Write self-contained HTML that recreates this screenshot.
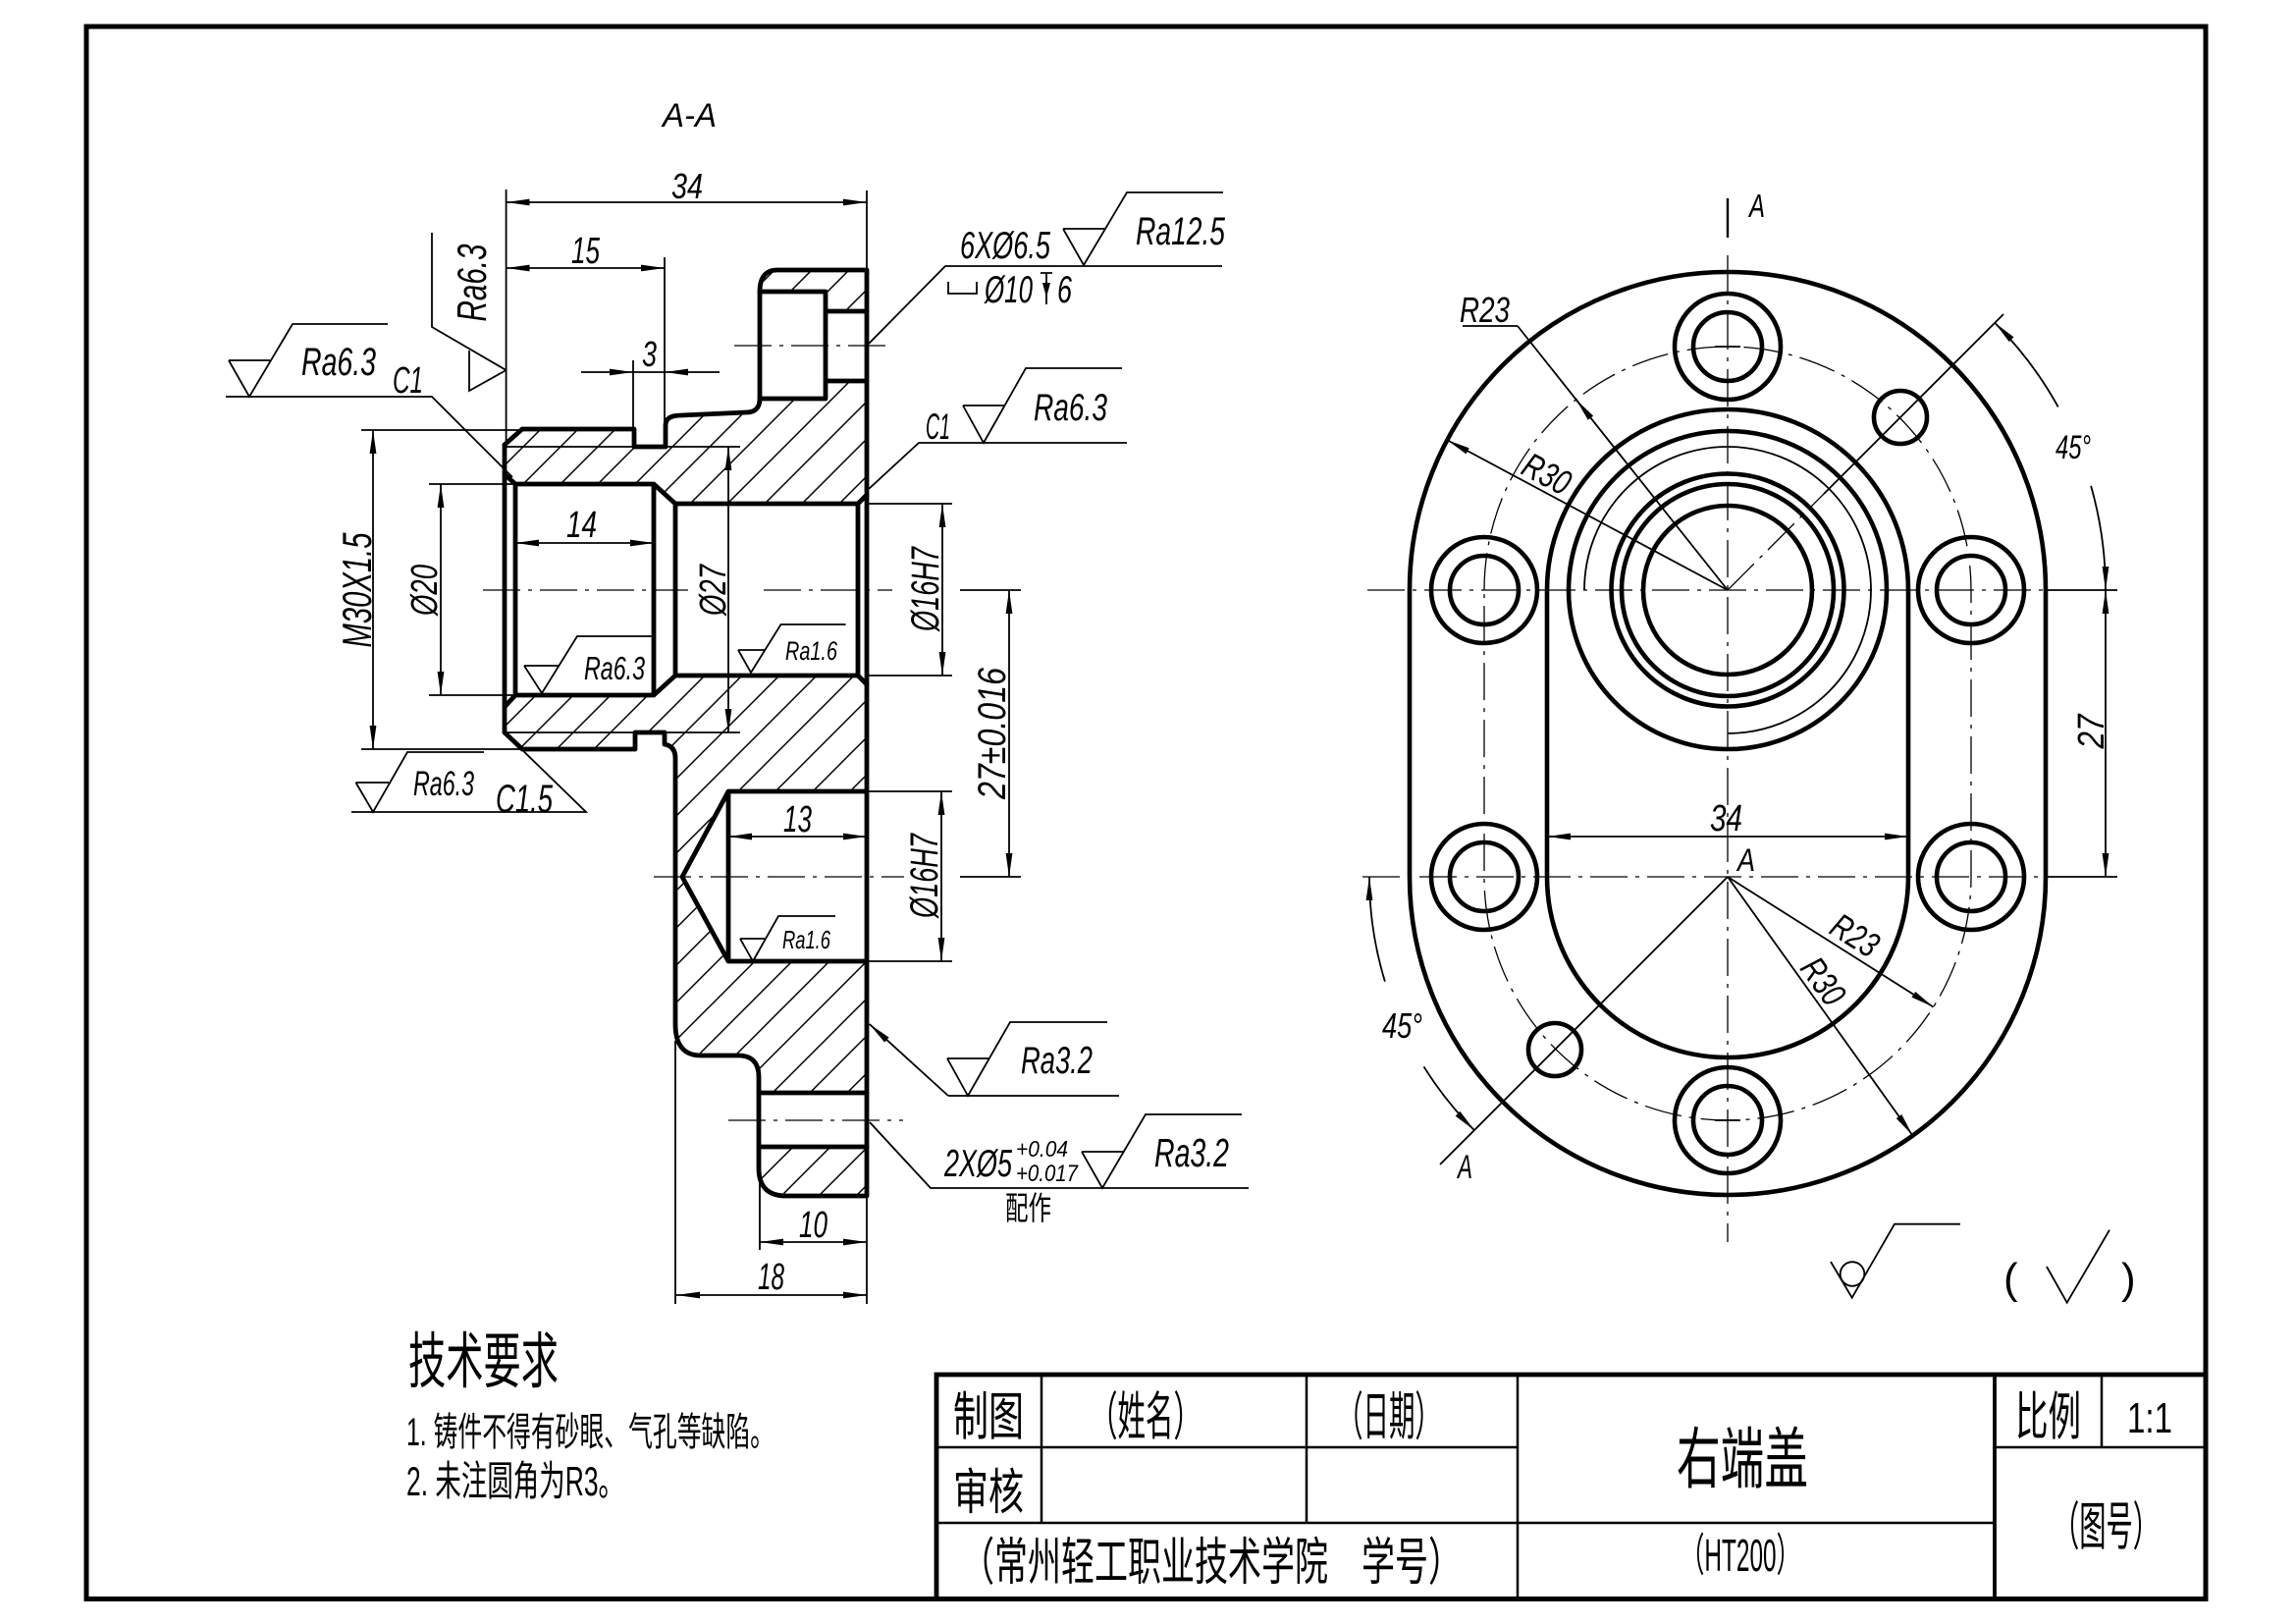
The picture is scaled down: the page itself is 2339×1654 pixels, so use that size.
<!DOCTYPE html>
<html><head><meta charset="utf-8">
<style>
html,body{margin:0;padding:0;background:#fff;}
svg{display:block}
.d{font-family:"Liberation Sans",sans-serif;font-style:italic;fill:#000}
.c{font-family:"Liberation Sans","Noto Sans CJK SC",sans-serif;fill:#000}
</style></head>
<body>
<svg width="2339" height="1654" viewBox="0 0 2339 1654" xmlns="http://www.w3.org/2000/svg">
<defs>
<marker id="ar" viewBox="0 0 24 8" refX="24" refY="4" markerWidth="24" markerHeight="8" markerUnits="userSpaceOnUse" orient="auto-start-reverse"><path d="M0,0.6 L24,4 L0,7.4 Z" fill="#000"/></marker>
<pattern id="h" width="38" height="38" patternUnits="userSpaceOnUse"><path d="M-3,3 L3,-3 M0,38 L38,0 M35,41 L41,35" stroke="#000" stroke-width="1.5"/></pattern>
</defs>
<rect width="2339" height="1654" fill="#fff"/>

<!-- frame -->
<rect x="88" y="27" width="2159" height="1601.5" fill="none" stroke="#000" stroke-width="5"/>

<!-- hatch -->
<g fill="url(#h)" stroke="none">
<path d="M514,483 L514,453 L532,437 L646,437 L646,455 L678,455 L678,433 Q678,423 694,423 L760,420 Q774,420 774,406 L841,406 L841,388 L883,388 L883,504 L874,513 L688,513 L666,493 L525,493 Z"/>
<path d="M774,297 Q774,275 792,275 L883,275 L883,317 L841,317 L841,297 Z"/>
<path d="M514,720 L525,708 L666,708 L688,688 L874,688 L883,697 L883,806 L742,806 L695,893 L742,979 L883,979 L883,1113 L773,1113 L773,1097 Q773,1075 752,1075 L714,1075 Q688,1075 688,1043 L688,772 Q688,760 677,758 L677,746 L647,746 L647,763 L532,763 L514,746 Z"/>
<path d="M773,1168 L883,1168 L883,1218 L801,1218 Q773,1218 773,1190 Z"/>
</g>

<!-- thick outlines section -->
<g fill="none" stroke="#000" stroke-width="4.8" stroke-linejoin="round" stroke-linecap="round">
<path d="M514,453 L514,746"/>
<path d="M514,453 L532,437 L646,437 L646,455 L678,455 L678,433 Q678,423 694,423 L760,420 Q774,420 774,406 L774,297 Q774,275 792,275 L883,275 L883,1218 L801,1218 Q773,1218 773,1190 L773,1097 Q773,1075 752,1075 L714,1075 Q688,1075 688,1043 L688,772 Q688,760 677,758 L677,746 L647,746 L647,763 L532,763 L514,746"/>
<path d="M774,297 L841,297 L841,406 L774,406 M841,317 L883,317 M841,388 L883,388"/>
<path d="M514,483 L525,493 L666,493 L688,513 L874,513 L883,504 M514,720 L525,708 L666,708 L688,688 L874,688 L883,697 M525,493 L525,708 M666,493 L666,708 M688,513 L688,688 M874,513 L874,688"/>
<path d="M883,806 L742,806 L742,979 L883,979 M742,806 L695,893 L742,979"/>
<path d="M773,1113 L883,1113 M773,1168 L883,1168"/>
</g>

<!-- thick outlines right view -->
<g fill="none" stroke="#000" stroke-width="4.6">
<path d="M1436,601 A324,324 0 0 1 2084,601 L2084,893 A324,324 0 0 1 1436,893 Z"/>
<path d="M1576,601 A184,184 0 0 1 1944,601 L1944,893 A184,184 0 0 1 1576,893 Z"/>
<circle cx="1760" cy="601" r="86"/>
<circle cx="1760" cy="601" r="108"/>
<circle cx="1760" cy="601" r="118.5"/>
<circle cx="1760" cy="601" r="162"/>
<circle cx="1760" cy="353" r="54"/><circle cx="1760" cy="353" r="35"/>
<circle cx="1512" cy="601" r="54"/><circle cx="1512" cy="601" r="35"/>
<circle cx="2008" cy="601" r="54"/><circle cx="2008" cy="601" r="35"/>
<circle cx="1512" cy="893" r="54"/><circle cx="1512" cy="893" r="35"/>
<circle cx="2008" cy="893" r="54"/><circle cx="2008" cy="893" r="35"/>
<circle cx="1760" cy="1141" r="54"/><circle cx="1760" cy="1141" r="35"/>
<circle cx="1936" cy="425" r="27"/>
<circle cx="1584" cy="1069" r="27"/>
</g>

<!-- center lines -->
<g fill="none" stroke="#000" stroke-width="1.3" stroke-dasharray="38,8,4,8">
<path d="M492,601 L701,601 M778,601 L909,601"/>
<path d="M666,893 L921,893"/>
<path d="M748,352 L909,352"/>
<path d="M742,1141 L920,1141"/>
<path d="M1512,601 A248,248 0 0 1 2008,601 L2008,893 A248,248 0 0 1 1512,893 Z"/>
<path d="M1393,601 L2084,601 M1388,893 L2084,893"/>
<path d="M1760,260 L1760,1265"/>
<path d="M1760,601 L1858,503"/>
</g>

<!-- thin lines -->
<g fill="none" stroke="#000" stroke-width="1.8">
<path d="M1614,601 A146,146 0 1 1 1760,747"/>
<path d="M1858,503 L2041,320"/>
<path d="M1760,893 L1467,1186"/>
<path d="M1760,202 L1760,242" stroke-width="2.4"/>
<path d="M1747,353 L1773,353 M1747,1141 L1773,1141"/>
<path d="M2084,601 L2157,601 M2084,893 L2157,893"/>
<path d="M1546,332 L1760,601 M1490,332 L1546,332"/>
<path d="M515.6,193 L515.6,453 M883,194 L883,275 M677,262 L677,455 M645,367 L645,437 M368,438 L532,438 M368,763 L532,763 M437,493 L525,493 M437,708 L525,708 M883,513 L970,513 M883,688 L970,688 M883,806 L970,806 M883,979 L970,979 M978,601 L1040,601 M978,893 L1040,893 M774,1193 L774,1273 M883,1218 L883,1328 M688,1060 L688,1328 M514,455 L754,455 M514,746 L754,746"/>
<path d="M645,379 L677,379"/>
<path d="M1083,233 L1126,233 M1083,233 L1104,270 L1148,196 L1246,196 M885,350 L963,271 L1245,271"/>
<path d="M981,413 L1023,413 M981,413 L1002,451 L1045,375 L1143,375 M885,498 L936,451 L1148,451"/>
<path d="M965,1078 L1007,1078 M965,1078 L986,1116 L1029,1041 L1128,1041 M966,1116 L1140,1116"/>
<path d="M1102,1173 L1145,1173 M1102,1173 L1123,1210 L1167,1135 L1265,1135 M886,1143 L948,1210 L1272,1210"/>
<path d="M752,662 L779,662 M752,662 L765,685 L795.5,636 L861.6,636"/>
<path d="M754,956 L779,956 M754,956 L767,979 L793,933 L851,933"/>
<path d="M534,678 L570,678 M534,678 L552,706 L588,648 L664,648"/>
<path d="M362.5,797 L396,797 M362.5,797 L380,827 L415,766 L493,766 M358,827 L597,827 L523,755"/>
<path d="M233,367 L275,367 M233,367 L254,404 L298,330 L395,330 M230,404 L440,404 L522,486"/>
<path d="M440,237 L440,333 L515.6,377 M478,357 L478,398 L515.6,377"/>
<path d="M966,287 L966,299 L995,299 L995,287 M1060,278 L1072,278 M1066,278 L1066,310"/>
<path d="M1865,1285 L1886.7,1321.7 L1930,1246.7 L1997,1246.7"/>
<circle cx="1887" cy="1297.5" r="12.3"/>
<path d="M2085,1290 L2105.7,1326.7 L2149,1252.7"/>
</g>
<path d="M1062,288 L1070,288 L1066,303 Z" fill="#000"/>

<!-- dimension lines with arrows -->
<g fill="none" stroke="#000" stroke-width="1.8" marker-start="url(#ar)" marker-end="url(#ar)">
<path d="M515.6,206 L883,206"/>
<path d="M515.6,273 L677,273"/>
<path d="M380,438 L380,763"/>
<path d="M449,493 L449,708"/>
<path d="M525,553 L666,553"/>
<path d="M742,455 L742,746"/>
<path d="M960,513 L960,688"/>
<path d="M1028,601 L1028,893"/>
<path d="M742,852 L883,852"/>
<path d="M959,806 L959,979"/>
<path d="M774,1265 L883,1265"/>
<path d="M689,1319 L883,1319"/>
<path d="M2145,601 L2145,893"/>
<path d="M1576,852 L1944,852"/>
</g>
<g fill="none" stroke="#000" stroke-width="1.8" marker-end="url(#ar)">
<path d="M592,379 L645,379"/>
<path d="M733,379 L677,379"/>
<path d="M966,1116 L885.7,1043"/>
<path d="M1618,422.6 L1605.6,406.9"/>
<path d="M1760,601 L1474,448"/>
<path d="M1760,893 L1969.6,1025.6"/>
<path d="M1760,893 L1948.5,1156.5"/>
<path d="M2130.1,494.9 A385,385 0 0 1 2145,601"/>
<path d="M2096.7,414.4 A385,385 0 0 0 2032.2,328.8"/>
<path d="M1410.9,999.7 A365,365 0 0 1 1395,893"/>
<path d="M1450.5,1086.4 A365,365 0 0 0 1501.9,1151.1"/>
</g>

<!-- title block -->
<g fill="none" stroke="#000">
<path d="M954,1628 L954,1400 L2247,1400" stroke-width="4.8"/>
<path d="M1061,1400 L1061,1551 M1331,1400 L1331,1551 M1546,1400 L1546,1628 M2141,1400 L2141,1474 M954,1474 L1546,1474 M2032,1474 L2247,1474 M954,1551 L2032,1551" stroke-width="2.5"/>
<path d="M2032,1400 L2032,1628" stroke-width="3.8"/>
</g>

<!-- section texts -->
<text class="d" x="675" y="129" font-size="34" textLength="55" lengthAdjust="spacingAndGlyphs">A-A</text>
<text class="d" x="684" y="202" font-size="36" textLength="32" lengthAdjust="spacingAndGlyphs">34</text>
<text class="d" x="582" y="268" font-size="38" textLength="29" lengthAdjust="spacingAndGlyphs">15</text>
<text class="d" x="654" y="373" font-size="36" textLength="15" lengthAdjust="spacingAndGlyphs">3</text>
<text class="d" x="495" y="288" transform="rotate(-90 495 288)" text-anchor="middle" font-size="42" textLength="79" lengthAdjust="spacingAndGlyphs">Ra6.3</text>
<text class="d" x="307" y="382" font-size="40" textLength="76" lengthAdjust="spacingAndGlyphs">Ra6.3</text>
<text class="d" x="400" y="400" font-size="38" textLength="31" lengthAdjust="spacingAndGlyphs">C1</text>
<text class="d" x="378" y="601" transform="rotate(-90 378 601)" text-anchor="middle" font-size="42" textLength="117" lengthAdjust="spacingAndGlyphs">M30X1.5</text>
<text class="d" x="445" y="601" transform="rotate(-90 445 601)" text-anchor="middle" font-size="38" textLength="52" lengthAdjust="spacingAndGlyphs">Ø20</text>
<text class="d" x="577" y="547" font-size="38" textLength="31" lengthAdjust="spacingAndGlyphs">14</text>
<text class="d" x="739" y="601" transform="rotate(-90 739 601)" text-anchor="middle" font-size="38" textLength="52" lengthAdjust="spacingAndGlyphs">Ø27</text>
<text class="d" x="595" y="692" font-size="33" textLength="62" lengthAdjust="spacingAndGlyphs">Ra6.3</text>
<text class="d" x="800" y="672" font-size="27" textLength="53" lengthAdjust="spacingAndGlyphs">Ra1.6</text>
<text class="d" x="956" y="600" transform="rotate(-90 956 600)" text-anchor="middle" font-size="40" textLength="86" lengthAdjust="spacingAndGlyphs">Ø16H7</text>
<text class="d" x="1024" y="747" transform="rotate(-90 1024 747)" text-anchor="middle" font-size="40" textLength="134" lengthAdjust="spacingAndGlyphs">27±0.016</text>
<text class="d" x="798" y="847" font-size="38" textLength="29" lengthAdjust="spacingAndGlyphs">13</text>
<text class="d" x="955" y="892" transform="rotate(-90 955 892)" text-anchor="middle" font-size="40" textLength="86" lengthAdjust="spacingAndGlyphs">Ø16H7</text>
<text class="d" x="797" y="966" font-size="26" textLength="49" lengthAdjust="spacingAndGlyphs">Ra1.6</text>
<text class="d" x="1040" y="1093" font-size="39" textLength="73" lengthAdjust="spacingAndGlyphs">Ra3.2</text>
<text class="d" x="962" y="1198" font-size="39" textLength="69" lengthAdjust="spacingAndGlyphs">2XØ5</text>
<text class="d" x="1035" y="1178" font-size="23" textLength="53" lengthAdjust="spacingAndGlyphs">+0.04</text>
<text class="d" x="1035" y="1203" font-size="24" textLength="63" lengthAdjust="spacingAndGlyphs">+0.017</text>
<text class="d" x="1176" y="1188" font-size="41" textLength="76" lengthAdjust="spacingAndGlyphs">Ra3.2</text>
<text class="c" x="1024" y="1242" font-size="33" textLength="47" lengthAdjust="spacingAndGlyphs">配作</text>
<text class="d" x="814" y="1260" font-size="38" textLength="29" lengthAdjust="spacingAndGlyphs">10</text>
<text class="d" x="772" y="1313" font-size="38" textLength="27" lengthAdjust="spacingAndGlyphs">18</text>
<text class="d" x="978" y="263" font-size="39" textLength="92" lengthAdjust="spacingAndGlyphs">6XØ6.5</text>
<text class="d" x="1003" y="308" font-size="39" textLength="49" lengthAdjust="spacingAndGlyphs">Ø10</text>
<text class="d" x="1077" y="308" font-size="39" textLength="15" lengthAdjust="spacingAndGlyphs">6</text>
<text class="d" x="1157" y="249" font-size="40" textLength="91" lengthAdjust="spacingAndGlyphs">Ra12.5</text>
<text class="d" x="943" y="447" font-size="37" textLength="25" lengthAdjust="spacingAndGlyphs">C1</text>
<text class="d" x="1053" y="428" font-size="39" textLength="75" lengthAdjust="spacingAndGlyphs">Ra6.3</text>
<text class="d" x="421" y="810" font-size="35" textLength="62" lengthAdjust="spacingAndGlyphs">Ra6.3</text>
<text class="d" x="505" y="827" font-size="40" textLength="58" lengthAdjust="spacingAndGlyphs">C1.5</text>

<!-- right view texts -->
<text class="d" x="1782" y="221" font-size="33" textLength="16" lengthAdjust="spacingAndGlyphs">A</text>
<text class="d" x="1487" y="328" font-size="36" textLength="51" lengthAdjust="spacingAndGlyphs">R23</text>
<text class="d" x="1576" y="495" transform="rotate(28 1576 482)" text-anchor="middle" font-size="36" textLength="50" lengthAdjust="spacingAndGlyphs">R30</text>
<text class="d" x="2094" y="467" font-size="34" textLength="36" lengthAdjust="spacingAndGlyphs">45°</text>
<text class="d" x="2143" y="745" transform="rotate(-90 2143 745)" text-anchor="middle" font-size="38" textLength="35" lengthAdjust="spacingAndGlyphs">27</text>
<text class="d" x="1742" y="846" font-size="38" textLength="33" lengthAdjust="spacingAndGlyphs">34</text>
<text class="d" x="1770" y="887" font-size="32" textLength="18" lengthAdjust="spacingAndGlyphs">A</text>
<text class="d" x="1890" y="965" transform="rotate(32 1890 952)" text-anchor="middle" font-size="36" textLength="50" lengthAdjust="spacingAndGlyphs">R23</text>
<text class="d" x="1858" y="1012" transform="rotate(54 1858 999)" text-anchor="middle" font-size="36" textLength="50" lengthAdjust="spacingAndGlyphs">R30</text>
<text class="d" x="1408" y="1057" font-size="36" textLength="41" lengthAdjust="spacingAndGlyphs">45°</text>
<text class="d" x="1485" y="1200" font-size="34" textLength="15" lengthAdjust="spacingAndGlyphs">A</text>

<!-- bottom right symbol parens -->
<text class="c" x="2041" y="1317" font-size="44">(</text>
<text class="c" x="2161" y="1317" font-size="44">)</text>

<!-- tech requirements -->
<text class="c" x="416" y="1408" font-size="62" textLength="153" lengthAdjust="spacingAndGlyphs">技术要求</text>
<text class="c" x="414" y="1472" font-size="40" textLength="375" lengthAdjust="spacingAndGlyphs">1. 铸件不得有砂眼、气孔等缺陷。</text>
<text class="c" x="414" y="1523" font-size="42" textLength="222" lengthAdjust="spacingAndGlyphs">2. 未注圆角为R3。</text>

<!-- title block texts -->
<text class="c" x="971" y="1461" font-size="53" textLength="72" lengthAdjust="spacingAndGlyphs">制图</text>
<text class="c" x="1110" y="1461" font-size="53" textLength="114" lengthAdjust="spacingAndGlyphs">（姓名）</text>
<text class="c" x="1362" y="1461" font-size="53" textLength="106" lengthAdjust="spacingAndGlyphs">（日期）</text>
<text class="c" x="971" y="1537" font-size="50" textLength="72" lengthAdjust="spacingAndGlyphs">审核</text>
<text class="c" x="1708" y="1510" font-size="68" textLength="134" lengthAdjust="spacingAndGlyphs">右端盖</text>
<text class="c" x="979" y="1609" font-size="52" textLength="510" lengthAdjust="spacingAndGlyphs">（常州轻工职业技术学院　学号）</text>
<text class="c" x="1712" y="1600" font-size="46" textLength="122" lengthAdjust="spacingAndGlyphs">（HT200）</text>
<text class="c" x="2053" y="1461" font-size="53" textLength="67" lengthAdjust="spacingAndGlyphs">比例</text>
<text class="c" x="2167" y="1459" font-size="44" textLength="46" lengthAdjust="spacingAndGlyphs">1:1</text>
<text class="c" x="2091" y="1573" font-size="53" textLength="109" lengthAdjust="spacingAndGlyphs">（图号）</text>
</svg>
</body></html>
